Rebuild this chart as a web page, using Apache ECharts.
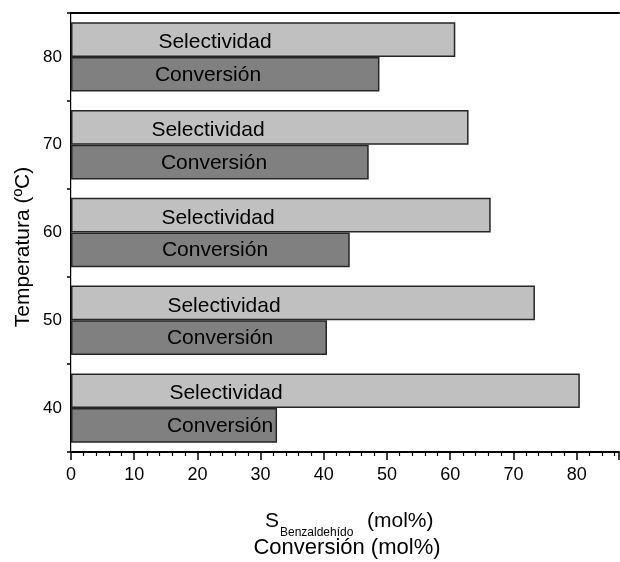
<!DOCTYPE html>
<html>
<head>
<meta charset="utf-8">
<script src="https://cdn.jsdelivr.net/npm/echarts@6/dist/echarts.min.js"></script>
<style>
  html, body { margin: 0; padding: 0; background: #fff; }
  #chart { width: 620px; height: 562px; }
</style>
</head>
<body>
<div id="chart"></div>
<script>
// Reaction temperature (ºC), bottom to top
const temperaturas = ['40', '50', '60', '70', '80'];
// Benzaldehyde selectivity (mol%)
const selectividad = [80.5, 73.4, 66.4, 62.9, 60.8];
// Conversion (mol%)
const conversion = [32.6, 40.5, 44.1, 47.1, 48.8];

// Horizontal placement of the in-bar captions (px from the bar's left edge)
const selLabelX = [155, 153, 147, 137, 144];
const convLabelX = [149, 149, 144, 143, 137];

const FONT = '"Liberation Sans", Arial, Helvetica, sans-serif';

function withLabels(values, xs, text, yPos) {
  return values.map((v, i) => ({
    value: v,
    label: {
      show: true,
      position: [xs[i], yPos],
      align: 'center',
      verticalAlign: 'middle',
      formatter: text,
      color: '#000',
      fontFamily: FONT,
      fontSize: 21
    }
  }));
}

const chart = echarts.init(document.getElementById('chart'), null, { renderer: 'canvas' });

const option = {
  animation: false,
  backgroundColor: '#fff',
  grid: { left: 71, right: 1, top: 13, bottom: 110, containLabel: false },
  xAxis: [
    {
      type: 'value',
      min: 0,
      max: 86.7,
      interval: 10,
      position: 'bottom',
      axisLine: { show: true, onZero: false, lineStyle: { color: '#000', width: 2 } },
      axisTick: { show: true, length: 8, lineStyle: { color: '#000', width: 1.5 } },
      minorTick: { show: true, splitNumber: 5, length: 4, lineStyle: { color: '#000', width: 1.2 } },
      splitLine: { show: false },
      axisLabel: {
        showMaxLabel: false,
        margin: 14,
        color: '#000',
        fontFamily: FONT,
        fontSize: 18
      }
    },
    {
      type: 'value',
      min: 0,
      max: 86.7,
      position: 'top',
      axisLine: { show: true, onZero: false, lineStyle: { color: '#000', width: 2 } },
      axisTick: { show: false },
      axisLabel: { show: false },
      splitLine: { show: false }
    }
  ],
  yAxis: [
    {
      type: 'category',
      data: temperaturas,
      position: 'left',
      axisLine: { show: true, onZero: false, lineStyle: { color: '#000', width: 2 } },
      axisTick: { show: true, length: 4, lineStyle: { color: '#000', width: 1.5 } },
      axisLabel: {
        margin: 9,
        color: '#000',
        fontFamily: FONT,
        fontSize: 17
      }
    },
    {
      type: 'category',
      data: temperaturas,
      position: 'right',
      axisLine: { show: true, lineStyle: { color: '#c8c8c8', width: 1 } },
      axisTick: { show: false },
      axisLabel: { show: false }
    }
  ],
  series: [
    {
      name: 'Selectividad',
      type: 'bar',
      barWidth: 34.7,
      barGap: '0%',
      itemStyle: { color: '#c0c0c0', borderColor: '#262626', borderWidth: 1.5 },
      data: withLabels(selectividad, selLabelX, 'Selectividad', '58%')
    },
    {
      name: 'Conversión',
      type: 'bar',
      barWidth: 34.7,
      barGap: '0%',
      itemStyle: { color: '#808080', borderColor: '#262626', borderWidth: 1.5 },
      data: withLabels(conversion, convLabelX, 'Conversión', '52%')
    }
  ],
  graphic: [
    {
      type: 'text',
      x: 23, y: 247,
      rotation: Math.PI / 2,
      style: {
        text: 'Temperatura (ºC)',
        fill: '#000',
        font: '21px ' + FONT,
        align: 'center',
        verticalAlign: 'middle'
      }
    },
    {
      type: 'text',
      x: 265, y: 521,
      style: { text: 'S', fill: '#000', font: '21px ' + FONT, align: 'left', verticalAlign: 'middle' }
    },
    {
      type: 'text',
      x: 280, y: 533,
      style: { text: 'Benzaldehído', fill: '#000', font: '12px ' + FONT, align: 'left', verticalAlign: 'middle' }
    },
    {
      type: 'text',
      x: 367, y: 521,
      style: { text: '(mol%)', fill: '#000', font: '21px ' + FONT, align: 'left', verticalAlign: 'middle' }
    },
    {
      type: 'text',
      x: 347, y: 548,
      style: { text: 'Conversión (mol%)', fill: '#000', font: '22px ' + FONT, align: 'center', verticalAlign: 'middle' }
    }
  ]
};

chart.setOption(option);
</script>
</body>
</html>
